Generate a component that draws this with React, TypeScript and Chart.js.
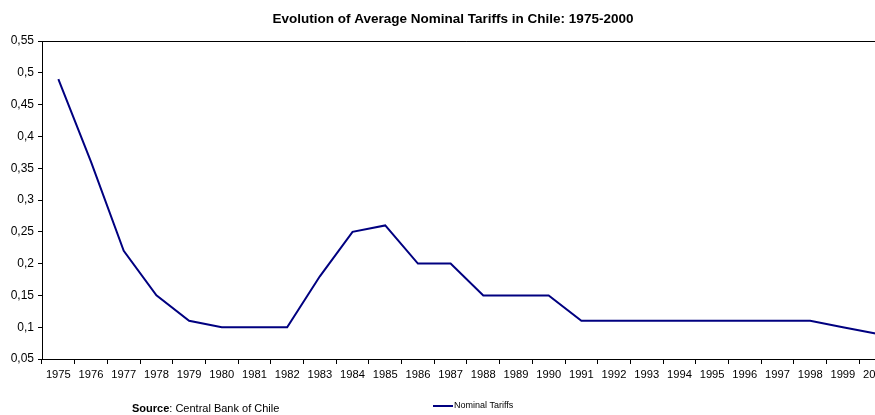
import React, { useEffect, useRef } from "react";
import { Chart, registerables } from "chart.js";

Chart.register(...registerables);

const years = ["1975","1976","1977","1978","1979","1980","1981","1982","1983","1984","1985","1986","1987","1988","1989","1990","1991","1992","1993","1994","1995","1996","1997","1998","1999","2000"];
const tariffs = [0.49,0.36,0.22,0.15,0.11,0.10,0.10,0.10,0.18,0.25,0.26,0.20,0.20,0.15,0.15,0.15,0.11,0.11,0.11,0.11,0.11,0.11,0.11,0.11,0.10,0.09];
const titleText = "Evolution of Average Nominal Tariffs in Chile: 1975-2000";
const seriesName = "Nominal Tariffs";
const sourceLabel = "Source";
const sourceText = ": Central Bank of Chile";

const FONT = "'Liberation Sans', Arial, sans-serif";

const textPlugin = {
  id: "texts",
  afterDraw(chart: any) {
    const ctx = chart.ctx;
    const ca = chart.chartArea;
    ctx.save();
    ctx.strokeStyle = "#000";
    ctx.lineWidth = 1;
    ctx.beginPath();
    ctx.moveTo(ca.left, ca.top + 0.5);
    ctx.lineTo(ca.right, ca.top + 0.5);
    ctx.moveTo(ca.right - 0.5, ca.top);
    ctx.lineTo(ca.right - 0.5, ca.bottom);
    ctx.stroke();
    ctx.fillStyle = "#000";
    ctx.font = `bold 13.5px ${FONT}`;
    ctx.textAlign = "center";
    ctx.textBaseline = "middle";
    ctx.fillText(titleText, 453, 19);
    ctx.textAlign = "left";
    ctx.font = `bold 11px ${FONT}`;
    const sx = 132;
    ctx.fillText(sourceLabel, sx, 409);
    const w = ctx.measureText(sourceLabel).width;
    ctx.font = `11px ${FONT}`;
    ctx.fillText(sourceText, sx + w, 409);
    ctx.strokeStyle = "#000080";
    ctx.lineWidth = 2;
    ctx.beginPath();
    ctx.moveTo(433, 406);
    ctx.lineTo(453, 406);
    ctx.stroke();
    ctx.font = `9px ${FONT}`;
    ctx.fillStyle = "#000";
    ctx.fillText(seriesName, 454, 406);
    ctx.restore();
  },
};

export default function App() {
  const ref = useRef<HTMLCanvasElement | null>(null);
  useEffect(() => {
    if (!ref.current) return;
    const chart = new Chart(ref.current, {
      type: "line",
      data: {
        labels: years,
        datasets: [
          {
            label: seriesName,
            data: tariffs,
            borderColor: "#000080",
            backgroundColor: "#000080",
            borderWidth: 2,
            pointRadius: 0,
            tension: 0,
          },
        ],
      },
      options: {
        responsive: false,
        animation: false,
        layout: { padding: { top: 41, right: 0, bottom: 0, left: 0 } },
        plugins: {
          legend: { display: false },
          title: { display: false },
          tooltip: { enabled: false },
        },
        scales: {
          x: {
            type: "category",
            offset: true,
            grid: {
              offset: true,
              drawOnChartArea: false,
              drawTicks: true,
              tickLength: 5,
              color: "#000",
            },
            border: { color: "#000", width: 1 },
            ticks: {
              autoSkip: false,
              maxRotation: 0,
              color: "#000",
              font: { family: FONT, size: 11.2 },
              padding: 4,
            },
            afterFit(scale: any) {
              scale.height = 56;
            },
          },
          y: {
            min: 0.05,
            max: 0.55,
            grid: {
              drawOnChartArea: false,
              drawTicks: true,
              tickLength: 4,
              color: "#000",
            },
            border: { color: "#000", width: 1 },
            ticks: {
              stepSize: 0.05,
              color: "#000",
              font: { family: FONT, size: 12 },
              padding: 4,
              callback: (v: any) => Number(Number(v).toFixed(2)).toString().replace(".", ","),
            },
            afterFit(scale: any) {
              scale.width = 42;
            },
          },
        },
      },
      plugins: [textPlugin],
    } as any);
    return () => chart.destroy();
  }, []);
  return (
    <div style={{ position: "fixed", left: 0, top: 0, width: 875, height: 415, overflow: "hidden", background: "#fff" }}>
      <canvas ref={ref} width={892} height={415} style={{ display: "block", width: 892, height: 415 }} />
    </div>
  );
}
